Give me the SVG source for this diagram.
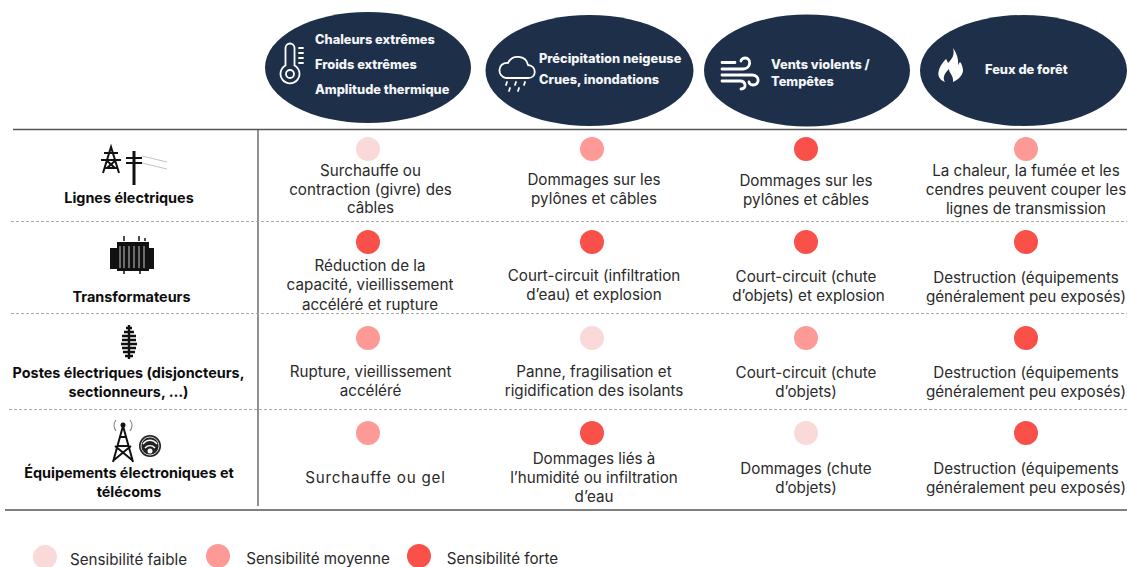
<svg xmlns="http://www.w3.org/2000/svg" width="1127" height="567" viewBox="0 0 1127 567">
<style>
text{font-family:"Inter","Liberation Sans",sans-serif;text-anchor:middle}
.b{font-size:15.2px;fill:#2a2a2a;dominant-baseline:auto}
.big{letter-spacing:.8px}
.h{font-size:14.400px;font-weight:700;fill:#0c0c0c}
.w{font-size:12.800px;font-weight:800;fill:#f4f5f7;text-anchor:start}
.e{fill:#1e3049}
.low{fill:#fadad8}.mid{fill:#fd9a96}.high{fill:#f9504a}
.ic{fill:none;stroke:#fff;stroke-width:1.800;stroke-linecap:round}
.k{fill:none;stroke:#111;stroke-width:2}
</style>
<g id="connectors">
<path d="M13 129.500H1127M5 510H1127" stroke="#555" stroke-width="1.300" fill="none"/>
<path d="M258 129V506" stroke="#555" stroke-width="1.300" fill="none"/>
<path d="M11 221.500H1127M11 313.500H1127M9 409.500H1127" stroke="#aaa" stroke-width="1" stroke-dasharray="3 2" fill="none"/>
</g>
<g id="hazard-temperature">
<ellipse class="e" cx="368" cy="67.500" rx="103" ry="55.500"/>
<path class="ic" d="M285.500 48a4.500 4.500 0 0 1 9 0v17.500a9.500 9.500 0 1 1-9 0z"/><circle class="ic" cx="290" cy="74" r="4"/><path class="ic" d="M299 48h4M299 53h4M299 58h4M299 63h4"/>
<text class="w" x="315" y="44">Chaleurs extrêmes</text><text class="w" x="315" y="69">Froids extrêmes</text><text class="w" x="315" y="94">Amplitude thermique</text>
</g>
<g id="hazard-precipitation">
<ellipse class="e" cx="589.500" cy="70.500" rx="104" ry="55.500"/>
<path class="ic" d="M506 78h22c9 0 9-12 0-13c-2-10-16-11-20-2c-11-1-11 14-2 15z"/><path class="ic" d="M507 82l-1 3M516 82l-1 3M525 82l-1 3M510 88l-1 3M519 88l-1 3"/>
<text class="w" x="539" y="63">Précipitation neigeuse</text><text class="w" x="539" y="84">Crues, inondations</text>
</g>
<g id="hazard-wind">
<ellipse class="e" cx="807" cy="70.500" rx="103" ry="56"/>
<path class="ic" style="stroke-width:2.800" d="M722 69h21c8 0 9-11 2-11c-3 0-4 2-4 3M722 62.500h13M722 75h30c8 0 8 10 1 10c-3 0-4-2-4-3M722 81h18c6 0 7 8 1 8"/>
<text class="w" x="771" y="69">Vents violents /</text><text class="w" x="771" y="86">Tempêtes</text>
</g>
<g id="hazard-fire">
<ellipse class="e" cx="1023.500" cy="70.500" rx="103.500" ry="55.500"/>
<path fill="#fff" d="M953 48c2 7-1 11-5 15c-1-2-1-3-2-4c-6 6-9 13-7 18c1 2 3 4 6 5c-3-5 0-9 4-13c0 4 5 7 4 13c4-2 9-5 10-11c0-3-1-7-3-9c-1 1-1 2-2 3c1-6-2-13-5-17z"/>
<text class="w" x="985" y="74">Feux de forêt</text>
</g>
<g id="row-lignes">
<path class="k" d="M103 173l8-26l8 26M104 153h14M101 160h20M106 160l9 8M116 160l-9 8M105 168h12"/>
<path stroke="#111" stroke-width="3" d="M134 151v34" fill="none"/>
<path stroke="#111" stroke-width="2" d="M126 158h16M126 163h16" fill="none"/>
<path stroke="#999" stroke-width=".6" d="M142 156l25 6M142 163l25 6" fill="none"/>
<text class="h" x="129" y="203">Lignes électriques</text>
</g>
<g id="row-transformateurs">
<path fill="#111" d="M110 248h7v-6h32v6h5v21h-5v2h-32v-2h-7z"/>
<path stroke="#aaa" stroke-width="1.200" d="M120 246v22M124 246v22M129 246v22M134 246v22M139 246v22M144 246v22" fill="none"/>
<path stroke="#111" stroke-width="1.500" d="M124 241v-5M139 241v-5M145 241v-3M124 271v3M140 271v3" fill="none"/>
<text class="h" x="131.500" y="302">Transformateurs</text>
</g>
<g id="row-postes">
<path stroke="#111" stroke-width="2.400" d="M129 325v34M126 328h6M124 332h10M122 336h14M122 340h14M121 344h16M122 348h14M123 352h12M125 356h8" fill="none"/>
<text class="h" x="128.500" y="378">Postes électriques (disjoncteurs,</text><text class="h" x="128.500" y="397">sectionneurs, …)</text>
</g>
<g id="row-equipements">
<path fill="none" stroke="#111" stroke-width="2" d="M123 426l-10 36M123 426l10 36M117 446h12M119 437h8M114 460l17-14M132 460l-17-14"/>
<circle cx="123" cy="425" r="2.500" fill="#111"/>
<path fill="none" stroke="#888" stroke-width="1.200" d="M116 420a9 9 0 0 0 0 11M130 420a9 9 0 0 1 0 11"/>
<circle cx="150" cy="446" r="11" fill="#222"/><circle cx="150" cy="446" r="9" fill="none" stroke="#fff" stroke-width=".8"/><path fill="none" stroke="#fff" stroke-width="1.500" d="M143 444c4-5 10-5 14 0M145 448c3-3 7-3 10 0"/><circle cx="150" cy="451" r="2.500" fill="#fff"/>
<text class="h" x="129" y="478">Équipements électroniques et</text><text class="h" x="129" y="497">télécoms</text>
</g>
<g id="col1">
<circle class="low" cx="368" cy="149" r="12"/>
<text class="b" x="370.500" y="175.500">Surchauffe ou</text><text class="b" x="370.500" y="194.500">contraction (givre) des</text><text class="b" x="370.500" y="212.500">câbles</text>
<circle class="high" cx="368" cy="242" r="12"/>
<text class="b" x="370" y="270.500">Réduction de la</text><text class="b" x="370" y="289.500">capacité, vieillissement</text><text class="b" x="370" y="309.500">accéléré et rupture</text>
<circle class="mid" cx="368" cy="338" r="12"/>
<text class="b" x="370.500" y="376.500">Rupture, vieillissement</text><text class="b" x="370.500" y="395.500">accéléré</text>
<circle class="mid" cx="368" cy="433" r="12"/>
<text class="b big" x="375.500" y="482.500">Surchauffe ou gel</text>
</g>
<g id="col2">
<circle class="mid" cx="592" cy="149" r="12"/>
<text class="b" x="594" y="184.500">Dommages sur les</text><text class="b" x="594" y="203.500">pylônes et câbles</text>
<circle class="high" cx="592" cy="242" r="12"/>
<text class="b" x="594" y="280.500">Court-circuit (infiltration</text><text class="b" x="594" y="299.500">d’eau) et explosion</text>
<circle class="low" cx="592" cy="338" r="12"/>
<text class="b" x="594" y="376.500">Panne, fragilisation et</text><text class="b" x="594" y="395.500">rigidification des isolants</text>
<circle class="high" cx="592" cy="433" r="12"/>
<text class="b" x="594" y="463.500">Dommages liés à</text><text class="b" x="594" y="482.500">l’humidité ou infiltration</text><text class="b" x="594" y="501.500">d’eau</text>
</g>
<g id="col3">
<circle class="high" cx="806" cy="149" r="12"/>
<text class="b" x="806" y="185.500">Dommages sur les</text><text class="b" x="806" y="204.500">pylônes et câbles</text>
<circle class="high" cx="806" cy="242" r="12"/>
<text class="b" x="806" y="281.500">Court-circuit (chute</text><text class="b" x="808.500" y="300.500">d’objets) et explosion</text>
<circle class="mid" cx="806" cy="338" r="12"/>
<text class="b" x="806" y="377.500">Court-circuit (chute</text><text class="b" x="806" y="396.500">d’objets)</text>
<circle class="low" cx="806" cy="433" r="12"/>
<text class="b" x="806" y="473.500">Dommages (chute</text><text class="b" x="806" y="492.500">d’objets)</text>
</g>
<g id="col4">
<circle class="mid" cx="1026" cy="149" r="12"/>
<text class="b" x="1026" y="175.500">La chaleur, la fumée et les</text><text class="b" x="1026" y="194.500">cendres peuvent couper les</text><text class="b" x="1026" y="213.500">lignes de transmission</text>
<circle class="high" cx="1026" cy="242" r="12"/>
<text class="b" x="1026" y="282.500">Destruction (équipements</text><text class="b" x="1026" y="301.500">généralement peu exposés)</text>
<circle class="high" cx="1026" cy="338" r="12"/>
<text class="b" x="1026" y="377.500">Destruction (équipements</text><text class="b" x="1026" y="396.500">généralement peu exposés)</text>
<circle class="high" cx="1026" cy="433" r="12"/>
<text class="b" x="1026" y="473.500">Destruction (équipements</text><text class="b" x="1026" y="492.500">généralement peu exposés)</text>
</g>
<g id="legend">
<circle class="low" cx="45" cy="557" r="12"/><text class="b" x="128.500" y="564.500">Sensibilité faible</text>
<circle class="mid" cx="218" cy="556" r="12"/><text class="b" x="318" y="563.500">Sensibilité moyenne</text>
<circle class="high" cx="419" cy="556" r="12"/><text class="b" x="502.500" y="563.500">Sensibilité forte</text>
</g>
</svg>
